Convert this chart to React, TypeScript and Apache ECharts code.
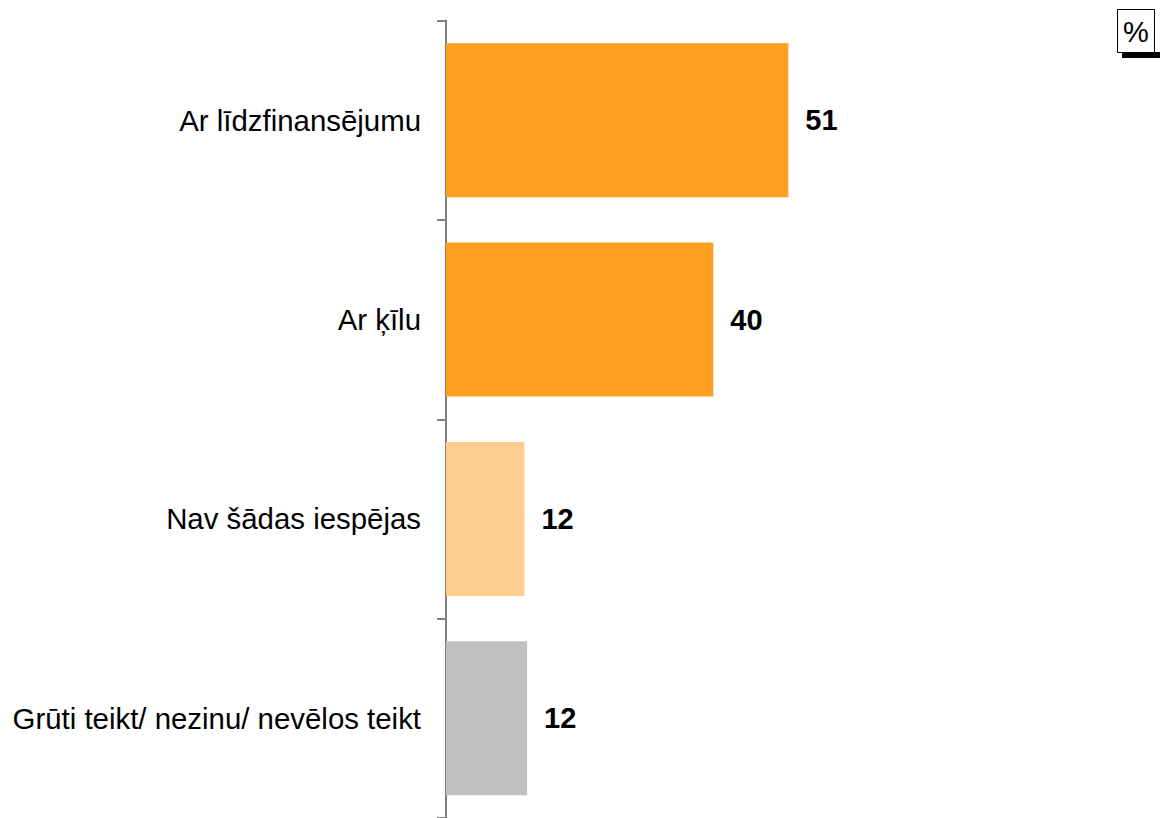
import React, { useEffect, useRef } from "react";
import * as echarts from "echarts";

const categories = [
  "Ar līdzfinansējumu",
  "Ar ķīlu",
  "Nav šādas iespējas",
  "Grūti teikt/ nezinu/ nevēlos teikt",
];
const values = [51.1, 39.9, 11.7, 12.1];
const barColors = ["#FFA020", "#FFA020", "#FFCD8E", "#C0C0C0"];
const unitLabel = "%";

export default function App() {
  const ref = useRef<HTMLDivElement>(null);
  useEffect(() => {
    if (!ref.current) return;
    const chart = echarts.init(ref.current, undefined, { renderer: "svg" });
    chart.setOption({
      animation: false,
      textStyle: { fontFamily: "Liberation Sans, Arial, sans-serif" },
      grid: { left: 446, top: 20.5, width: 670, height: 800 },
      xAxis: {
        type: "value",
        min: 0,
        max: 100,
        show: false,
      },
      yAxis: {
        type: "category",
        data: categories,
        inverse: true,
        axisLine: { show: true, lineStyle: { color: "#808080", width: 2 } },
        axisTick: { show: true, length: 9, lineStyle: { color: "#808080", width: 2 } },
        axisLabel: {
          color: "#000",
          fontSize: 29.4,
          margin: 25,
          fontFamily: "Liberation Sans, Arial, sans-serif",
        },
      },
      series: [
        {
          type: "bar",
          barWidth: 154,
          data: values.map((v, i) => ({ value: v, itemStyle: { color: barColors[i] } })),
          label: {
            show: true,
            position: "right",
            distance: 17,
            color: "#000",
            fontSize: 29,
            fontWeight: "bold",
            fontFamily: "Liberation Sans, Arial, sans-serif",
            formatter: (p: any) => String(Math.round(p.value)),
          },
        },
      ],
      graphic: [
        { type: "rect", shape: { x: 1122, y: 52, width: 40, height: 6 }, style: { fill: "#000" } },
        {
          type: "rect",
          shape: { x: 1117.5, y: 9.5, width: 37, height: 43 },
          style: { fill: "#fff", stroke: "#000", lineWidth: 1 },
        },
        {
          type: "text",
          x: 1136,
          y: 32,
          style: {
            text: unitLabel,
            fontSize: 29,
            fill: "#000",
            align: "center",
            verticalAlign: "middle",
            fontFamily: "Liberation Sans, Arial, sans-serif",
          },
        },
      ],
    });
    return () => chart.dispose();
  }, []);
  return (
    <div
      ref={ref}
      style={{ position: "absolute", left: 0, top: 0, width: 1160, height: 818 }}
    />
  );
}
